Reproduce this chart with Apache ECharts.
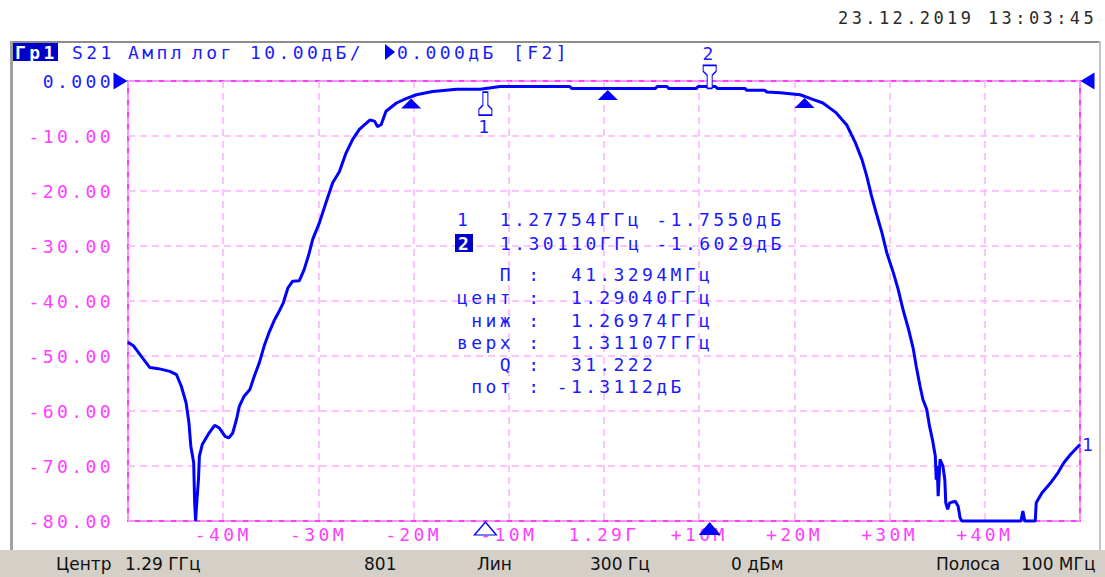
<!DOCTYPE html>
<html><head><meta charset="utf-8">
<script src="https://cdn.jsdelivr.net/npm/echarts@6/dist/echarts.min.js"></script>
<style>
html,body{margin:0;padding:0;background:#fff;}
#chart{width:1105px;height:577px;}
#chart text{white-space:pre;}
#chart text[style*="Mono"]{letter-spacing:3.4px;}
</style></head><body><div id="chart"></div>
<script>
// ---- data (frequency offset from 1.29 GHz centre, MHz ; S21 in dB) ----
const freqMHz = [
-50, -49.4, -48.5, -47.7, -46.8, -45.6, -44.9, -44.4, -43.9, -43.6,
-43.4, -43.1, -43.0, -42.9, -42.75, -42.6, -42.5, -42.2, -41.6, -40.9,
-40.4, -39.8, -39.4, -39.0, -38.6, -38.3, -37.8, -37.2, -36.7, -36.2,
-35.7, -35.2, -34.6, -34.1, -33.7, -33.2, -32.7, -32.0, -31.5, -31.0,
-30.6, -29.9, -29.2, -28.5, -27.8, -27.1, -26.4, -25.7, -24.6, -24.1,
-23.8, -23.4, -22.9, -21.8, -20.8, -19.7, -18.0, -15.5, -13.0, -10.9,
-3.6, -3.4, 5.4, 5.6, 6.6, 6.8, 9.7, 9.9, 11.7, 11.9,
14.8, 15.0, 16.9, 17.1, 18.5, 20.6, 22.0, 23.0, 24.4, 25.5,
26.4, 27.1, 27.6, 28.1, 28.6, 29.2, 29.7, 30.4, 30.9, 31.4,
32.0, 32.5, 32.8, 33.2, 33.5, 33.9, 34.2, 34.5, 34.8, 34.9,
35.0, 35.1, 35.3, 35.6, 35.8, 35.9, 36.1, 36.3, 36.9, 37.2,
37.4, 37.6, 43.8, 44.0, 44.2, 45.3, 45.4, 46.0, 46.9, 47.7,
48.3, 49.0, 50.0
];
const s21dB = [
-47.5, -48.2, -50.3, -52.1, -52.3, -52.8, -53.4, -55.5, -58.5, -62.1,
-66.4, -69.4, -76.6, -80, -76.0, -72.5, -68.2, -66.1, -64.3, -62.6,
-63.1, -64.6, -64.9, -64.0, -61.5, -59.1, -57.3, -56.1, -53.5, -51.2,
-48.2, -45.8, -43.4, -41.8, -40.4, -37.6, -36.4, -36.3, -34.3, -31.5,
-28.8, -25.8, -22.1, -18.5, -16.5, -13.1, -10.6, -8.8, -7.1, -7.3,
-8.3, -7.9, -5.5, -4.0, -3.2, -2.5, -1.9, -1.5, -1.5, -1.0,
-1.0, -1.35, -1.35, -1.0, -1.0, -1.35, -1.35, -1.0, -1.0, -1.35,
-1.35, -1.7, -1.7, -2.0, -2.15, -2.5, -3.4, -4.0, -5.8, -8.0,
-11.2, -14.3, -17.3, -20.9, -24.0, -27.6, -31.2, -34.9, -37.9, -41.5,
-45.2, -48.8, -51.9, -55.5, -57.9, -59.7, -62.8, -65.2, -68.2, -72.5,
-70.0, -75.5, -68.8, -70.0, -72.5, -76.7, -77.9, -76.7, -76.4, -77.3,
-79.4, -80, -80, -78.2, -80, -80, -76.7, -74.9, -73.1, -71.2,
-69.4, -67.9, -66.1
];
const xTickValues = [-40, -30, -20, -10, 0, 10, 20, 30, 40];
const xTickLabels = ['-40M', '-30M', '-20M', '-10M', '1.29Г', '+10M', '+20M', '+30M', '+40M'];
const yTickValues = [0, -10, -20, -30, -40, -50, -60, -70, -80];
const yTickLabels = ['0.000', '-10.00', '-20.00', '-30.00', '-40.00', '-50.00', '-60.00', '-70.00', '-80.00'];
const markerFreq = [-12.46, 11.10];
const markerDb = [-1.7550, -1.6029];
const bwFreq = [-20.26, 0.40, 21.07];
const bwDb = [-2.9, -1.35, -2.8];
const readoutLines = [
  '1  1.27754ГГц -1.7550дБ',
  '1.30110ГГц -1.6029дБ',
  '   П :  41.3294МГц',
  'цент :  1.29040ГГц',
  ' ниж :  1.26974ГГц',
  'верх :  1.31107ГГц',
  '   Q :  31.222',
  ' пот : -1.3112дБ'
];
const readoutX = [457, 500, 457, 457, 457, 457, 457, 457];
const headerParts = ['S21', 'Ампл', 'лог', '10.00дБ/', '0.000дБ', '[F2]'];
const statusParts = ['Центр', '1.29 ГГц', '801', 'Лин', '300 Гц', '0 дБм', 'Полоса', '100 МГц'];
const dateText = '23.12.2019 13:03:45';

// ---- styling ----
const MONO = 'DejaVu Sans Mono';
const BLUE = '#0000ff';
const TXTBLUE = '#1a1aff';
const MAG = '#ff3cff';
const GRIDC = '#ffb0ff';
const FS = 18;

const chart = echarts.init(document.getElementById('chart'), null, {renderer: 'svg'});

const lineData = freqMHz.map((f, i) => [f, s21dB[i]]);

const MK_ABOVE = 'path://M0,0 H13 V6 L9,10 V23 H4 V10 L0,6 Z';
const MK_BELOW = 'path://M4,0 H9 V13 L13,17 V23 H0 V17 L4,13 Z';
const lblStyle = {show: true, color: TXTBLUE, fontFamily: MONO, fontSize: FS};

const mp = [];
mp.push({coord: [markerFreq[0], markerDb[0]], symbol: MK_BELOW, symbolSize: [13, 23], symbolOffset: [0, 13],
  itemStyle: {color: '#fff', borderColor: BLUE, borderWidth: 1.3},
  label: Object.assign({}, lblStyle, {position: 'bottom', distance: 1, formatter: '1'})});
mp.push({coord: [markerFreq[1], markerDb[1]], symbol: MK_ABOVE, symbolSize: [13, 23], symbolOffset: [0, -13],
  itemStyle: {color: '#fff', borderColor: BLUE, borderWidth: 1.3},
  label: Object.assign({}, lblStyle, {position: 'top', distance: 2, formatter: '2'})});
mp.push({coord: [markerFreq[0], -80], symbol: 'triangle', symbolSize: [22, 13], symbolOffset: [0, 7.5],
  itemStyle: {color: '#fff', borderColor: BLUE, borderWidth: 1.3}});
mp.push({coord: [markerFreq[1], -80], symbol: 'triangle', symbolSize: [22, 13], symbolOffset: [0, 7.5],
  itemStyle: {color: BLUE}});
bwFreq.forEach((f, i) => mp.push({coord: [f, bwDb[i]], symbol: 'triangle', symbolSize: [20, 10], symbolOffset: [0, 6.5],
  itemStyle: {color: BLUE}}));
mp.push({coord: [-50, 0], symbol: 'triangle', symbolRotate: -90, symbolSize: [17, 14], symbolOffset: [-7.5, 0], itemStyle: {color: BLUE}});
mp.push({coord: [50, 0], symbol: 'triangle', symbolRotate: 90, symbolSize: [17, 14], symbolOffset: [7.5, 0], itemStyle: {color: BLUE}});

function t(x, y, text, fill, extra) {
  return {type: 'text', x: x, y: y, silent: true, z: 100,
    style: Object.assign({text: text, fill: fill, fontFamily: MONO, fontSize: FS,
      textAlign: 'left', textVerticalAlign: 'middle'}, extra || {})};
}

const graphics = [
  {type: 'rect', silent: true, z: -10, shape: {x: 0, y: 550, width: 1105, height: 27}, style: {fill: '#d4d0c8'}},
  {type: 'rect', silent: true, z: -10, shape: {x: 10, y: 41, width: 1091, height: 2}, style: {fill: '#8c8c8c'}},
  {type: 'rect', silent: true, z: -10, shape: {x: 10, y: 41, width: 3, height: 509}, style: {fill: '#a0a0a0'}},
  {type: 'rect', silent: true, z: -10, shape: {x: 1099, y: 41, width: 2, height: 509}, style: {fill: '#c4c4c4'}},
  {type: 'rect', silent: true, z: 90, shape: {x: 13, y: 43, width: 45, height: 18}, style: {fill: '#0000c8'}},
  t(15, 52, 'Гр1', '#ffffff', {fontWeight: 'bold'}),
  {type: 'polygon', silent: true, z: 90, shape: {points: [[385, 44], [395, 52], [385, 60]]}, style: {fill: BLUE}},
  t(838, 18, dateText, '#2a2a2a', {fontSize: 17})
];
const headerX = [72, 128, 192, 250, 397, 513];
headerParts.forEach((s, i) => graphics.push(t(headerX[i], 52, s, TXTBLUE)));
const readY = [219.5, 243, 274.5, 297.5, 320, 342.5, 364.5, 386.5];
graphics.push({type: 'rect', silent: true, z: 90, shape: {x: 455, y: 234, width: 18, height: 18}, style: {fill: '#0000c8'}});
graphics.push(t(458, 243, '2', '#ffffff', {fontWeight: 'bold'}));
readoutLines.forEach((s, i) => graphics.push(t(readoutX[i], readY[i], s, TXTBLUE)));
const statusX = [56, 125, 364, 477, 590, 731, 936, 1021];
statusParts.forEach((s, i) => graphics.push(t(statusX[i], 563.5, s, '#111111', {fontFamily: 'DejaVu Sans', fontSize: 17})));

const option = {
  animation: false,
  backgroundColor: '#ffffff',
  grid: {left: 128, right: 25, top: 81, bottom: 56, show: true, borderColor: MAG, borderWidth: 2, backgroundColor: 'transparent'},
  xAxis: {
    type: 'value', min: -50, max: 50, interval: 10,
    axisLine: {show: false}, axisTick: {show: false},
    splitLine: {show: true, lineStyle: {color: GRIDC, width: 1.5, type: [7, 5]}},
    axisLabel: {
      showMinLabel: false, showMaxLabel: false, margin: 4,
      color: MAG, fontFamily: MONO, fontSize: FS,
      formatter: v => { const k = xTickValues.indexOf(Number(v)); return k >= 0 ? xTickLabels[k] : ''; }
    }
  },
  yAxis: {
    type: 'value', min: -80, max: 0, interval: 10,
    axisLine: {show: false}, axisTick: {show: false},
    splitLine: {show: true, lineStyle: {color: GRIDC, width: 1.5, type: [7, 5]}},
    axisLabel: {
      margin: 14, fontFamily: MONO, fontSize: FS,
      color: v => Number(v) === 0 ? TXTBLUE : MAG,
      formatter: v => { const k = yTickValues.indexOf(Number(v)); return k >= 0 ? yTickLabels[k] : ''; }
    }
  },
  graphic: graphics,
  series: [{
    type: 'line', data: lineData, showSymbol: false, symbol: 'none', clip: false,
    lineStyle: {color: BLUE, width: 3}, itemStyle: {color: BLUE},
    endLabel: {show: true, formatter: '1', color: TXTBLUE, fontFamily: MONO, fontSize: FS, distance: 2},
    markPoint: {silent: true, label: {show: false}, data: mp}
  }]
};
chart.setOption(option);
</script></body></html>
